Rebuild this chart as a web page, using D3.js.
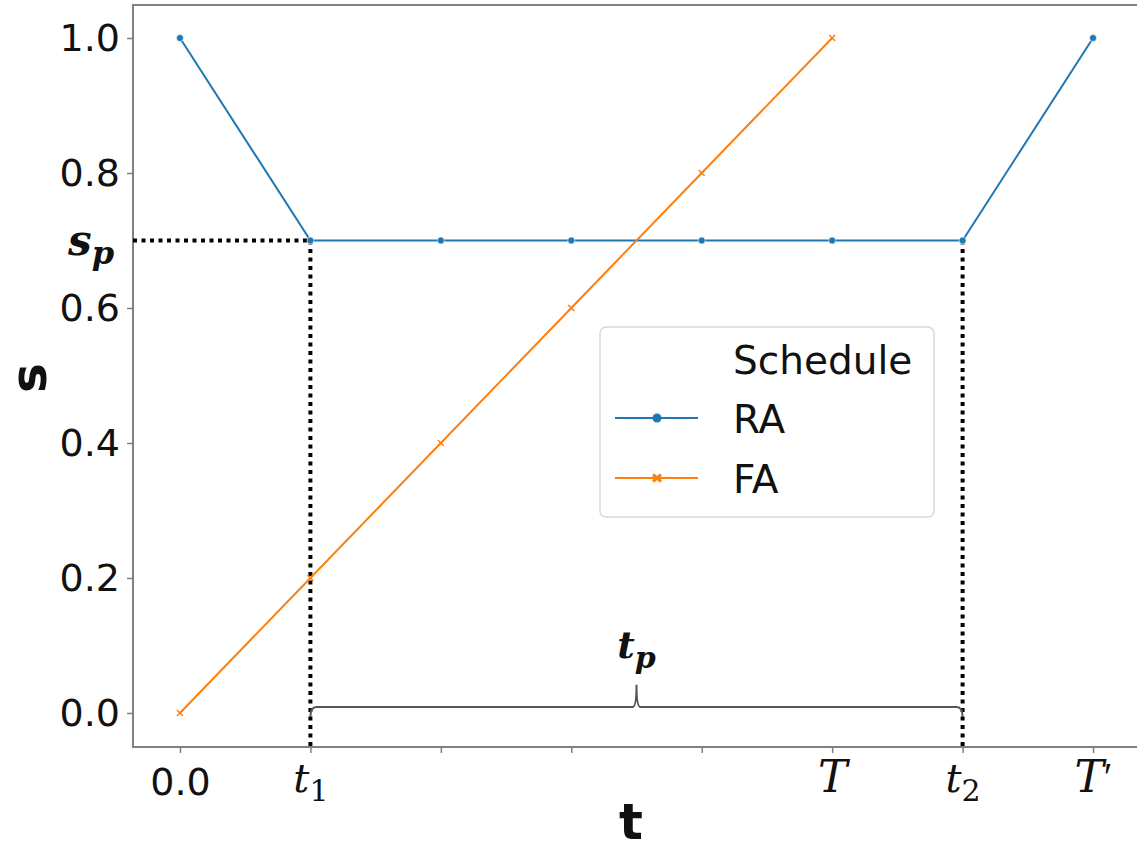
<!DOCTYPE html>
<html>
<head>
<meta charset="utf-8">
<script src="https://cdn.jsdelivr.net/npm/d3@7"></script>
<style>
  body { margin: 0; background: #fff; }
  svg { display: block; }
  .tick line { stroke: #808080; stroke-width: 1.5; }
  .domain { display: none; }
</style>
</head>
<body>
<div id="chart"></div>
<script>
// schedule values, step index on x
const steps = [0, 1, 2, 3, 4, 5, 6, 7];
const raValues = [1.0, 0.7, 0.7, 0.7, 0.7, 0.7, 0.7, 1.0];
const faSteps = [0, 1, 2, 3, 4, 5];
const faValues = [0.0, 0.2, 0.4, 0.6, 0.8, 1.0];
const yTicks = [0.0, 0.2, 0.4, 0.6, 0.8, 1.0];
// x tick labels: [main, subscript, prime]
const xTickLabels = [["0.0", "", ""], ["t", "1", ""], ["", "", ""], ["", "", ""], ["", "", ""], ["T", "", ""], ["t", "2", ""], ["T", "", "′"]];
const sp = 0.7, t1 = 1, t2 = 6;
const braceY = 0.009, braceTip = 0.042;

const width = 1137, height = 849;
const svg = d3.select("#chart").append("svg")
  .attr("width", width).attr("height", height);

const x = d3.scaleLinear().domain([-0.36, 7.36]).range([133, 1140]);
const y = d3.scaleLinear().domain([-0.0504, 1.0489]).range([747, 5]);

const blue = "#1f77b4", orange = "#ff7f0e";
const tickFont = 38;

// frame
svg.append("rect")
  .attr("x", x.range()[0]).attr("y", y.range()[1])
  .attr("width", x.range()[1] - x.range()[0]).attr("height", y.range()[0] - y.range()[1])
  .attr("fill", "none").attr("stroke", "#808080").attr("stroke-width", 2);

// y axis
const yAxis = svg.append("g")
  .attr("transform", `translate(${x.range()[0]},0)`)
  .call(d3.axisLeft(y).tickValues(yTicks).tickFormat(d3.format(".1f")).tickSize(6).tickPadding(7));
yAxis.selectAll("text")
  .attr("font-family", "DejaVu Sans").attr("font-size", tickFont).attr("fill", "#111");

// x axis
const xAxis = svg.append("g")
  .attr("transform", `translate(0,${y.range()[0]})`)
  .call(d3.axisBottom(x).tickValues(steps).tickFormat("").tickSize(6));
xAxis.selectAll(".tick").each(function(d, i) {
  const lab = xTickLabels[i];
  if (!lab[0]) return;
  const t = d3.select(this).append("text")
    .attr("y", 45).attr("text-anchor", "middle").attr("fill", "#111");
  if (i === 0) {
    t.attr("font-family", "DejaVu Sans").attr("font-size", tickFont).attr("y", 48).text(lab[0]);
    return;
  }
  t.attr("font-family", "DejaVu Serif").attr("font-size", lab[0] === "T" ? 44 : 40);
  t.append("tspan").attr("font-style", "italic").text(lab[0]);
  if (lab[2]) t.append("tspan").attr("font-family", "Liberation Serif").attr("font-size", 40).attr("dy", -2).text(lab[2]);
  if (lab[1]) t.append("tspan").attr("font-size", 30).attr("dy", 9).text(lab[1]);
});

// dotted guides
const dot = { stroke: "#000", width: 4, dash: "4,4.5" };
svg.append("line")
  .attr("x1", x.range()[0]).attr("x2", x(t1))
  .attr("y1", y(sp)).attr("y2", y(sp))
  .attr("stroke", dot.stroke).attr("stroke-width", dot.width).attr("stroke-dasharray", dot.dash);
[t1, t2].forEach(tv => {
  svg.append("line")
    .attr("x1", x(tv)).attr("x2", x(tv))
    .attr("y1", y(sp)).attr("y2", y.range()[0])
    .attr("stroke", dot.stroke).attr("stroke-width", dot.width).attr("stroke-dasharray", dot.dash);
});

// brace between t1 and t2
const bx0 = x(t1), bx1 = x(t2), bm = (bx0 + bx1) / 2, by = y(braceY), bt = y(braceTip);
const bracePath = `M${bx0},${by + 10} Q${bx0},${by} ${bx0 + 6},${by}
  L${bm - 4},${by} Q${bm},${by} ${bm},${bt} Q${bm},${by} ${bm + 4},${by}
  L${bx1 - 6},${by} Q${bx1},${by} ${bx1},${by + 10}`;
svg.append("path").attr("d", bracePath)
  .attr("fill", "none").attr("stroke", "#555").attr("stroke-width", 2);

svg.append("text")
  .attr("x", bm).attr("y", y(0.081))
  .attr("text-anchor", "middle").attr("font-family", "DejaVu Serif")
  .attr("font-weight", "bold").attr("font-style", "italic").attr("font-size", 38).attr("fill", "#111")
  .call(t => {
    t.append("tspan").text("t");
    t.append("tspan").attr("font-size", 30).attr("dy", 10).text("p");
  });

// s_p label
svg.append("text")
  .attr("x", 114).attr("y", y(sp) + 15)
  .attr("text-anchor", "end").attr("font-family", "DejaVu Serif")
  .attr("font-weight", "bold").attr("font-style", "italic").attr("font-size", 42).attr("fill", "#111")
  .call(t => {
    t.append("tspan").text("s");
    t.append("tspan").attr("font-size", 32).attr("dy", 9).text("p");
  });

// lines
const line = d3.line().x(d => x(d[0])).y(d => y(d[1]));
const raData = steps.map((s, i) => [s, raValues[i]]);
const faData = faSteps.map((s, i) => [s, faValues[i]]);

svg.append("path").datum(raData).attr("d", line)
  .attr("fill", "none").attr("stroke", blue).attr("stroke-width", 2);
svg.append("path").datum(faData).attr("d", line)
  .attr("fill", "none").attr("stroke", orange).attr("stroke-width", 2);

svg.selectAll("circle.ra").data(raData).join("circle")
  .attr("class", "ra")
  .attr("cx", d => x(d[0])).attr("cy", d => y(d[1])).attr("r", 3.5)
  .attr("fill", blue).attr("stroke", "#fff").attr("stroke-width", 0.6);

const xs = 3;
svg.selectAll("path.fa").data(faData).join("path")
  .attr("class", "fa")
  .attr("d", d => {
    const cx = x(d[0]), cy = y(d[1]);
    return `M${cx - xs},${cy - xs}L${cx + xs},${cy + xs}M${cx - xs},${cy + xs}L${cx + xs},${cy - xs}`;
  })
  .attr("stroke", orange).attr("stroke-width", 1.5);

// axis titles
svg.append("text")
  .attr("x", 631).attr("y", 839).attr("text-anchor", "middle")
  .attr("font-family", "DejaVu Sans").attr("font-weight", "bold").attr("font-size", 50)
  .attr("fill", "#111").text("t");
svg.append("text")
  .attr("transform", `translate(46,378) rotate(-90)`)
  .attr("text-anchor", "middle")
  .attr("font-family", "DejaVu Sans").attr("font-weight", "bold").attr("font-size", 50)
  .attr("fill", "#111").text("s");

// legend
const lg = svg.append("g").attr("transform", "translate(600,327)");
lg.append("rect")
  .attr("width", 334).attr("height", 190).attr("rx", 6)
  .attr("fill", "#fff").attr("fill-opacity", 0.8)
  .attr("stroke", "#d9d9d9").attr("stroke-width", 1.5);
lg.append("text").attr("x", 133).attr("y", 47)
  .attr("font-family", "DejaVu Sans").attr("font-size", 39).attr("fill", "#111").text("Schedule");
const legendItems = [["RA", blue], ["FA", orange]];
legendItems.forEach((it, i) => {
  const cy = 91 + i * 60;
  lg.append("line").attr("x1", 15).attr("x2", 98).attr("y1", cy).attr("y2", cy)
    .attr("stroke", it[1]).attr("stroke-width", 2);
  if (i === 0) {
    lg.append("circle").attr("cx", 57).attr("cy", cy).attr("r", 4.5).attr("fill", it[1]);
  } else {
    lg.append("path")
      .attr("d", `M${53},${cy - 3.5}L${61},${cy + 3.5}M${53},${cy + 3.5}L${61},${cy - 3.5}`)
      .attr("stroke", it[1]).attr("stroke-width", 3);
  }
  lg.append("text").attr("x", 133).attr("y", cy + 15)
    .attr("font-family", "DejaVu Sans").attr("font-size", 39).attr("fill", "#111").text(it[0]);
});
</script>
</body>
</html>
